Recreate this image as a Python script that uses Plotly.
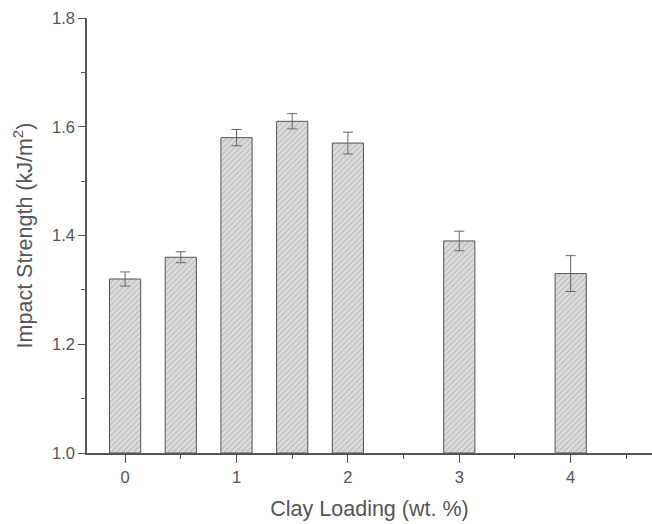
import plotly.graph_objects as go

clay_loading = [0, 0.5, 1, 1.5, 2, 3, 4]
impact_strength = [1.32, 1.36, 1.58, 1.61, 1.57, 1.39, 1.33]
impact_error = [0.013, 0.01, 0.015, 0.014, 0.02, 0.018, 0.033]
x_ticks = [0, 1, 2, 3, 4]
y_ticks = [1.0, 1.2, 1.4, 1.6, 1.8]

fig = go.Figure()
fig.add_trace(go.Bar(
    x=clay_loading,
    y=[v - 1.0 for v in impact_strength],
    base=1.0,
    width=0.28,
    marker=dict(
        color="#dcdcdc",
        line=dict(color="#555555", width=1),
        pattern=dict(shape="/", fgcolor="#8a8a8a", bgcolor="#dcdcdc", size=4, solidity=0.25),
    ),
    error_y=dict(type="data", array=impact_error, visible=True, color="#666666", thickness=1, width=5),
    hoverinfo="skip",
))

axis_font = dict(family="Liberation Sans, Arial, sans-serif", size=16.5, color="#555555")
title_font = dict(family="Liberation Sans, Arial, sans-serif", size=21.5, color="#555555")

fig.update_layout(
    width=652, height=524,
    margin=dict(l=87, r=0, t=18, b=71),
    plot_bgcolor="white", paper_bgcolor="white",
    showlegend=False,
    xaxis=dict(
        range=[-0.342, 4.73],
        tickvals=x_ticks, ticktext=[str(t) for t in x_ticks],
        ticks="outside", ticklen=8, tickwidth=1, tickcolor="#555555",
        minor=dict(dtick=0.5, tick0=0.5, ticks="outside", ticklen=4, tickcolor="#555555", showgrid=False),
        showline=True, linecolor="#555555", linewidth=1.5,
        showgrid=False, zeroline=False,
        tickfont=axis_font,
        title=dict(text="Clay Loading (wt. %)", font=title_font, standoff=16),
    ),
    yaxis=dict(
        range=[1.0, 1.8],
        tickvals=y_ticks, ticktext=["%.1f" % t for t in y_ticks],
        ticks="outside", ticklen=7, tickwidth=1, tickcolor="#555555",
        minor=dict(dtick=0.1, tick0=1.1, ticks="outside", ticklen=4, tickcolor="#555555", showgrid=False),
        showline=True, linecolor="#555555", linewidth=1.5,
        showgrid=False, zeroline=False,
        tickfont=axis_font,
        title=dict(text="Impact Strength (kJ/m<sup>2</sup>)", font=title_font, standoff=13),
    ),
)

fig.write_html("out.html")
